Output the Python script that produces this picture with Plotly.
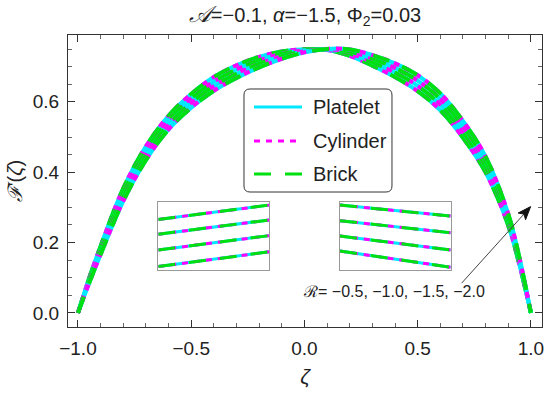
import plotly.graph_objects as go

# ---------------- data ----------------
zeta = [-1.0, -0.95, -0.9, -0.8, -0.7, -0.6, -0.5, -0.4, -0.3, -0.2, -0.1, 0.0,
        0.1, 0.2, 0.3, 0.4, 0.5, 0.6, 0.7, 0.8, 0.9, 0.95, 1.0]

R_labels = ["-0.5", "-1.0", "-1.5", "-2.0"]
F_R05 = [0, 0.1005, 0.190, 0.354, 0.4735, 0.5605, 0.6225, 0.6705, 0.704, 0.728, 0.7435, 0.7495,
         0.7475, 0.731, 0.703, 0.6705, 0.6305, 0.576, 0.498, 0.3995, 0.2485, 0.1345, 0]
F_R10 = [0, 0.0955, 0.182, 0.342, 0.4605, 0.5475, 0.6095, 0.6575, 0.692, 0.718, 0.7365, 0.7465,
         0.7485, 0.737, 0.713, 0.6835, 0.6455, 0.592, 0.514, 0.4145, 0.2595, 0.1415, 0]
F_R15 = [0, 0.0905, 0.174, 0.330, 0.4475, 0.5345, 0.5965, 0.6445, 0.680, 0.708, 0.7295, 0.7435,
         0.7495, 0.743, 0.723, 0.6965, 0.6605, 0.608, 0.530, 0.4295, 0.2705, 0.1485, 0]
F_R20 = [0, 0.0855, 0.166, 0.318, 0.4345, 0.5215, 0.5835, 0.6315, 0.668, 0.698, 0.7225, 0.7405,
         0.7505, 0.749, 0.733, 0.7095, 0.6755, 0.624, 0.546, 0.4445, 0.2815, 0.1555, 0]
F_all = [F_R05, F_R10, F_R15, F_R20]

# inset (magnified) data
inset_left_x = [-0.52, -0.48]
inset_left_y = [[0.6122, 0.6185], [0.6057, 0.6120], [0.5988, 0.6051], [0.5915, 0.5980]]
inset_right_x = [0.58, 0.62]
inset_right_y = [[0.6011, 0.5916], [0.6099, 0.6017], [0.6189, 0.6118], [0.6280, 0.6216]]

shapes_names = ["Platelet", "Cylinder", "Brick"]
colors = {"Platelet": "#00E8FF", "Cylinder": "#FF00FF", "Brick": "#00E010"}
dashes = {"Platelet": "solid", "Cylinder": "6px,6px", "Brick": "17px,14px"}

x_ticks = [-1.0, -0.5, 0.0, 0.5, 1.0]
y_ticks = [0.0, 0.2, 0.4, 0.6]

# arrow (tail -> head) in data coordinates
arrow_tail = (0.694, 0.0845)
arrow_head = [(0.9987, 0.3022), (0.9766, 0.2650), (0.9691, 0.2809), (0.9439, 0.2840)]

FONT = "Liberation Sans, Arial, sans-serif"

fig = go.Figure()

# main curves
for F in F_all:
    for nm in shapes_names:
        fig.add_trace(go.Scatter(
            x=zeta, y=F, mode="lines", showlegend=False,
            line=dict(color=colors[nm], width=4, dash=dashes[nm], shape="spline", smoothing=1.0),
            xaxis="x", yaxis="y"))

# insets
for ys in inset_left_y:
    for nm in shapes_names:
        fig.add_trace(go.Scatter(
            x=inset_left_x, y=ys, mode="lines", showlegend=False,
            line=dict(color=colors[nm], width=3, dash=dashes[nm]),
            xaxis="x2", yaxis="y2"))
for ys in inset_right_y:
    for nm in shapes_names:
        fig.add_trace(go.Scatter(
            x=inset_right_x, y=ys, mode="lines", showlegend=False,
            line=dict(color=colors[nm], width=3, dash=dashes[nm]),
            xaxis="x3", yaxis="y3"))

frame_col = "#333333"
tick_font = dict(family=FONT, size=19, color="#222222")

inset_axis = dict(showticklabels=False, ticks="", showgrid=False, zeroline=False, showline=True,
                  linecolor="#999999", linewidth=1, mirror=True, automargin=False)

fig.update_layout(
    width=550, height=394,
    margin=dict(l=68, r=8, t=35, b=67, autoexpand=False),
    paper_bgcolor="white", plot_bgcolor="white",
    title=dict(text="<i><span style='font-size:23px'>𝒜</span></i>=−0.1, <i>α</i>=−1.5, Φ<sub>2</sub>=0.03",
               x=0.5, xref="paper", y=1 - 15 / 394, yref="container",
               xanchor="center", yanchor="middle", automargin=False,
               font=dict(family=FONT, size=20, color="#222222")),
    xaxis=dict(range=[-1.044, 1.049], tickvals=x_ticks, ticktext=[f"{v:.1f}".replace("-", "−") for v in x_ticks],
               ticks="inside", ticklen=7, tickcolor=frame_col, tickwidth=1,
               minor=dict(dtick=0.1, tick0=0, ticks="inside", ticklen=4, tickcolor="#666666"),
               showline=True, linecolor=frame_col, linewidth=1, mirror="ticks",
               showgrid=False, zeroline=False, tickfont=tick_font, ticklabelstandoff=4,
               automargin=False,
               title=dict(text="<i>ζ</i>", font=dict(family=FONT, size=21, color="#222222"), standoff=11)),
    yaxis=dict(range=[-0.040, 0.790], tickvals=y_ticks, ticktext=[f"{v:.1f}" for v in y_ticks],
               ticks="inside", ticklen=7, tickcolor=frame_col, tickwidth=1,
               minor=dict(dtick=0.05, tick0=0, ticks="inside", ticklen=4, tickcolor="#666666"),
               showline=True, linecolor=frame_col, linewidth=1, mirror="ticks",
               showgrid=False, zeroline=False, tickfont=tick_font, ticklabelstandoff=4,
               automargin=False,
               title=dict(text="<i>ℱ</i>'(<i>ζ</i>)", font=dict(family=FONT, size=20, color="#222222"), standoff=4)),
    xaxis2=dict(domain=[0.1905, 0.4247], anchor="y2", range=inset_left_x, **inset_axis),
    yaxis2=dict(domain=[0.1952, 0.4291], anchor="x2", range=[0.59, 0.62], **inset_axis),
    xaxis3=dict(domain=[0.5738, 0.8074], anchor="y3", range=inset_right_x, **inset_axis),
    yaxis3=dict(domain=[0.1952, 0.4291], anchor="x3", range=[0.59, 0.63], **inset_axis),
    showlegend=False,
)

# manual legend (rounded box + sample lines + labels)
lx0, lx1, ly0, ly1 = 0.3713, 0.6835, 0.4623, 0.8151
rx, ry = 6 / 474, 6 / 292
path = (f"M{lx0+rx},{ly1} L{lx1-rx},{ly1} Q{lx1},{ly1} {lx1},{ly1-ry} "
        f"L{lx1},{ly0+ry} Q{lx1},{ly0} {lx1-rx},{ly0} L{lx0+rx},{ly0} "
        f"Q{lx0},{ly0} {lx0},{ly0+ry} L{lx0},{ly1-ry} Q{lx0},{ly1} {lx0+rx},{ly1} Z")
fig.add_shape(type="path", path=path, xref="paper", yref="paper",
              line=dict(color="#333333", width=1), fillcolor="white", layer="above")
row_y = [0.7534, 0.6370, 0.5240]
for nm, yy in zip(shapes_names, row_y):
    fig.add_shape(type="line", xref="paper", yref="paper", x0=0.3924, x1=0.4937, y0=yy, y1=yy,
                  line=dict(color=colors[nm], width=3, dash=dashes[nm]), layer="above")
    fig.add_annotation(text=nm, xref="paper", yref="paper", x=0.5127, y=yy,
                       xanchor="left", yanchor="middle", showarrow=False,
                       font=dict(family=FONT, size=20, color="#222222"))

# R annotation and arrow (arrow drawn as shapes)
fig.add_annotation(text="ℛ= −0.5, −1.0, −1.5, −2.0", x=0.395, y=0.0597, xref="x", yref="y",
                   showarrow=False, xanchor="center", yanchor="middle",
                   font=dict(family=FONT, size=16, color="#222222"))
fig.add_shape(type="line", xref="x", yref="y", x0=arrow_tail[0], y0=arrow_tail[1],
              x1=arrow_head[2][0], y1=arrow_head[2][1], line=dict(color="#444444", width=1))
tri = "M" + " L".join(f"{px},{py}" for px, py in arrow_head) + " Z"
fig.add_shape(type="path", xref="x", yref="y", path=tri, fillcolor="#111111",
              line=dict(color="#111111", width=1))

fig.write_html("out.html", config={"displayModeBar": False},
               post_script="document.body.style.margin='0';document.body.style.padding='0';")
